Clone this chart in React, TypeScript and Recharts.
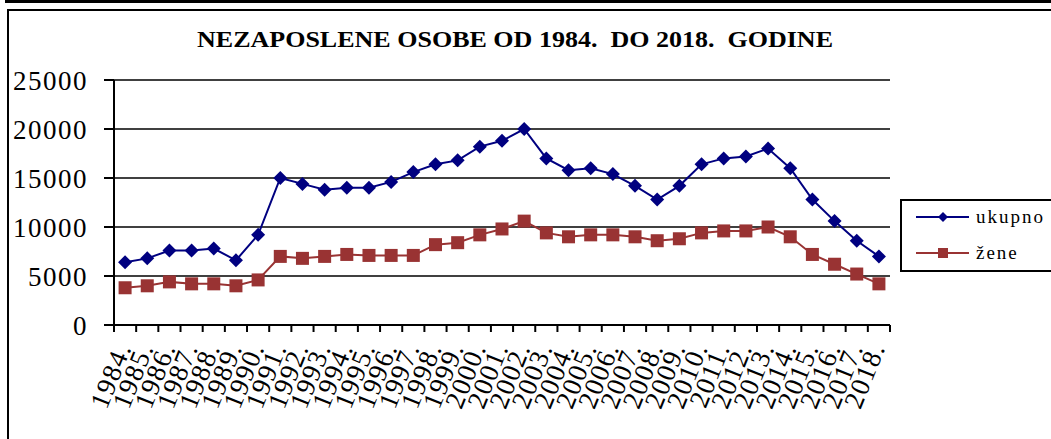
import { LineChart, Line, XAxis, YAxis, CartesianGrid } from 'recharts';

const years = [
  '1984.', '1985.', '1986.', '1987.', '1988.', '1989.', '1990.', '1991.', '1992.', '1993.',
  '1994.', '1995.', '1996.', '1997.', '1998.', '1999.', '2000.', '2001.', '2002.', '2003.',
  '2004.', '2005.', '2006.', '2007.', '2008.', '2009.', '2010.', '2011.', '2012.', '2013.',
  '2014.', '2015.', '2016.', '2017.', '2018.',
];

const ukupno = [
  6400, 6800, 7600, 7600, 7800, 6600, 9200, 15000, 14400, 13800,
  14000, 14000, 14600, 15600, 16400, 16800, 18200, 18800, 20000, 17000,
  15800, 16000, 15400, 14200, 12800, 14200, 16400, 17000, 17200, 18000,
  16000, 12800, 10600, 8600, 7000,
];

const zene = [
  3800, 4000, 4400, 4200, 4200, 4000, 4600, 7000, 6800, 7000,
  7200, 7100, 7100, 7100, 8200, 8400, 9200, 9800, 10600, 9400,
  9000, 9200, 9200, 9000, 8600, 8800, 9400, 9600, 9600, 10000,
  9000, 7200, 6200, 5200, 4200,
];

const yTicks = [0, 5000, 10000, 15000, 20000, 25000];

const BLUE = '#000080';
const RED = '#993333';
const SERIF = '"Liberation Serif", "Times New Roman", serif';

const W = 1051;
const H = 439;
const PLOT_LEFT = 114;
const PLOT_RIGHT = 890;
const PLOT_TOP = 80;
const PLOT_BOTTOM = 325;
const STEP = (PLOT_RIGHT - PLOT_LEFT) / years.length;

const chartData = years.map((year, i) => ({ year, ukupno: ukupno[i], zene: zene[i] }));

function Diamond({ cx, cy, r = 7, fill }: any) {
  if (cx == null || cy == null) return null;
  return <path d={`M${cx},${cy - r}L${cx + r},${cy}L${cx},${cy + r}L${cx - r},${cy}Z`} fill={fill} />;
}

function Square({ cx, cy, r = 6.5, fill }: any) {
  if (cx == null || cy == null) return null;
  return <rect x={cx - r} y={cy - r} width={r * 2} height={r * 2} fill={fill} />;
}

function YearTick({ x, y, payload, index }: any) {
  const half = STEP / 2;
  const ax = x + 7;
  const ay = y + 22;
  return (
    <g>
      <line x1={x - half} y1={y} x2={x - half} y2={y + 7} stroke="#000" strokeWidth={2} />
      {index === years.length - 1 && (
        <line x1={x + half} y1={y} x2={x + half} y2={y + 7} stroke="#000" strokeWidth={2} />
      )}
      <text
        x={ax}
        y={ay}
        transform={`rotate(-68, ${ax}, ${ay})`}
        textAnchor="end"
        fontFamily={SERIF}
        fontSize={27}
        letterSpacing={1.5}
        fill="#000"
      >
        {payload.value}
      </text>
    </g>
  );
}

function LegendBox() {
  const rows = [
    { label: 'ukupno', color: BLUE, shape: 'diamond' },
    { label: 'žene', color: RED, shape: 'square' },
  ];
  return (
    <div
      style={{
        position: 'absolute',
        left: 900,
        top: 199,
        width: 149,
        height: 69,
        border: '2px solid #000',
        borderRight: 'none',
        background: '#fff',
      }}
    >
      <svg width={151} height={69} style={{ display: 'block' }}>
        {rows.map((r, i) => {
          const cy = 16 + i * 36;
          return (
            <g key={r.label}>
              <line x1={14} y1={cy} x2={67} y2={cy} stroke={r.color} strokeWidth={2} />
              {r.shape === 'diamond' ? (
                <Diamond cx={41} cy={cy} r={5} fill={r.color} />
              ) : (
                <Square cx={41} cy={cy} r={5} fill={r.color} />
              )}
              <text x={74} y={cy + 6} fontFamily={SERIF} fontSize={19} letterSpacing={2} fill="#000">
                {r.label}
              </text>
            </g>
          );
        })}
      </svg>
    </div>
  );
}

export default function App() {
  return (
    <div style={{ position: 'absolute', left: 0, top: 0, width: W, height: H, background: '#fff', overflow: 'hidden' }}>
      {/* frame */}
      <div style={{ position: 'absolute', left: 5, top: 0, width: W - 5, height: 3, background: '#000' }} />
      <div style={{ position: 'absolute', left: 7, top: 9, width: W - 7, height: 2, background: '#000' }} />
      <div style={{ position: 'absolute', left: 7, top: 9, width: 2, height: H - 9, background: '#000' }} />

      <svg style={{ position: 'absolute', left: 0, top: 0 }} width={W} height={60}>
        <text
          x={197}
          y={47}
          textLength={636}
          lengthAdjust="spacingAndGlyphs"
          fontFamily={SERIF}
          fontWeight="bold"
          fontSize={23}
          fill="#000"
          style={{ whiteSpace: 'pre' }}
        >
          {'NEZAPOSLENE OSOBE OD 1984.  DO 2018.  GODINE'}
        </text>
      </svg>

      <div style={{ position: 'absolute', left: 0, top: 0 }}>
        <LineChart
          width={W}
          height={H}
          data={chartData}
          margin={{ top: PLOT_TOP, right: W - PLOT_RIGHT, bottom: 0, left: 0 }}
        >
          <CartesianGrid vertical={false} stroke="#000" strokeWidth={1.5} />
          <XAxis
            dataKey="year"
            interval={0}
            padding={{ left: STEP / 2, right: STEP / 2 }}
            tick={<YearTick />}
            tickLine={false}
            tickSize={0}
            tickMargin={0}
            axisLine={{ stroke: '#000', strokeWidth: 2 }}
            height={H - PLOT_BOTTOM}
          />
          <YAxis
            width={PLOT_LEFT}
            domain={[0, 25000]}
            ticks={yTicks}
            interval={0}
            tickSize={10}
            tickMargin={16}
            tickLine={{ stroke: '#000', strokeWidth: 2 }}
            axisLine={{ stroke: '#000', strokeWidth: 2 }}
            tick={{ fill: '#000', fontFamily: SERIF, fontSize: 27, letterSpacing: 1.5 }}
          />
          <YAxis
            yAxisId="right"
            orientation="right"
            width={0}
            tick={false}
            tickLine={false}
            axisLine={{ stroke: '#000', strokeWidth: 2 }}
          />
          <Line
            type="linear"
            dataKey="ukupno"
            name="ukupno"
            stroke={BLUE}
            strokeWidth={2}
            dot={(p: any) => <Diamond key={`u-${p.index}`} cx={p.cx} cy={p.cy} r={7} fill={BLUE} />}
            isAnimationActive={false}
          />
          <Line
            type="linear"
            dataKey="zene"
            name="žene"
            stroke={RED}
            strokeWidth={2}
            dot={(p: any) => <Square key={`z-${p.index}`} cx={p.cx} cy={p.cy} r={6.5} fill={RED} />}
            isAnimationActive={false}
          />
        </LineChart>
      </div>

      <LegendBox />
    </div>
  );
}
